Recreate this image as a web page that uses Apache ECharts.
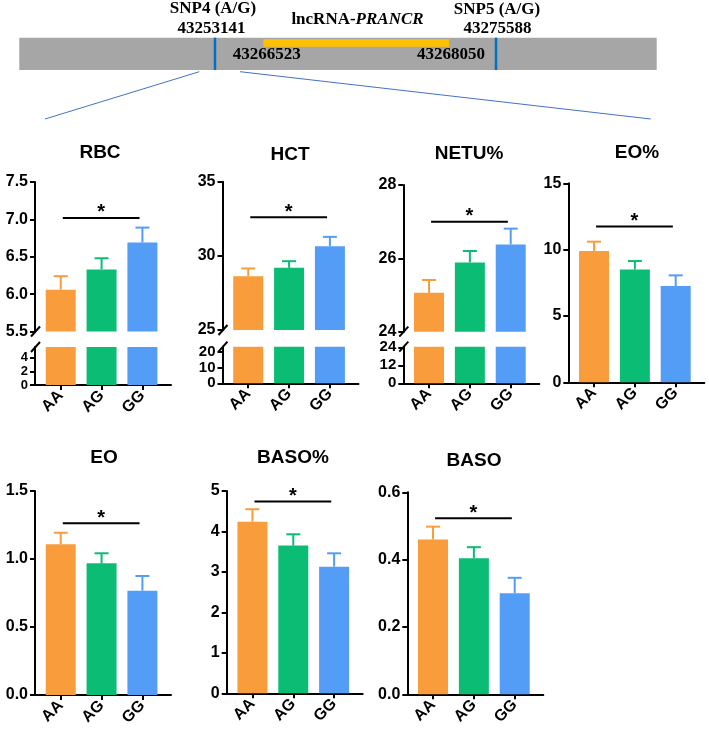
<!DOCTYPE html>
<html>
<head>
<meta charset="utf-8">
<script src="https://cdn.jsdelivr.net/npm/echarts@6/dist/echarts.min.js"></script>
<style>
html, body { margin: 0; padding: 0; background: #fff; }
#main { width: 709px; height: 735px; }
</style>
</head>
<body>
<div id="main"></div>
<script>
// genotype groups and bar colours
const genotypes = ['AA', 'AG', 'GG'];
const barColors = ['#F99C3C', '#0BBD74', '#539DF7'];

// mean and SEM
const rbcMean = [6.06, 6.33, 6.69];
const rbcSem = [0.18, 0.15, 0.20];
const hctMean = [28.63, 29.19, 30.65];
const hctSem = [0.52, 0.45, 0.63];
const netuMean = [25.06, 25.89, 26.38];
const netuSem = [0.35, 0.31, 0.43];
const eoPctMean = [9.90, 8.51, 7.26];
const eoPctSem = [0.70, 0.63, 0.80];
const eoMean = [1.108, 0.968, 0.767];
const eoSem = [0.085, 0.074, 0.108];
const basoPctMean = [4.24, 3.65, 3.13];
const basoPctSem = [0.31, 0.28, 0.33];
const basoMean = [0.460, 0.404, 0.300];
const basoSem = [0.038, 0.033, 0.046];

// height of the AA vs GG significance bar
const sigLevel = [7.02, 32.6, 27.0, 11.75, 1.262, 4.74, 0.523];
const panelTitles = ['RBC', 'HCT', 'NETU%', 'EO%', 'EO', 'BASO%', 'BASO'];

const FONT = 'Liberation Sans, Arial, sans-serif';
const SERIF = 'Liberation Serif, Times New Roman, serif';
const W = 136;
const X_MIN = -0.63, X_MAX = 2.7;

// layout of each panel (broken axes get a "lower" part)
const panels = [
    { mean: rbcMean, sem: rbcSem, left: 35, top: 182, bottom: 331.5, min: 5.5, max: 7.5, interval: 0.5, dec: 1,
      lower: { top: 347, bottom: 385, max: 5.6, ticks: [0, 2, 4], font: 13 }, tx: 100, ty: 153 },
    { mean: hctMean, sem: hctSem, left: 222.5, top: 181.7, bottom: 330, min: 25, max: 35, interval: 5, dec: 0,
      lower: { top: 346.7, bottom: 383.3, max: 23.2, ticks: [0, 10, 20], font: 15 }, tx: 290, ty: 155 },
    { mean: netuMean, sem: netuSem, left: 403.3, top: 185, bottom: 331.7, min: 24, max: 28, interval: 2, dec: 0,
      lower: { top: 346.7, bottom: 383.3, max: 24.4, ticks: [0, 12, 24], font: 15 }, tx: 469, ty: 154 },
    { mean: eoPctMean, sem: eoPctSem, left: 568.3, top: 183.3, bottom: 382.3, min: 0, max: 15, interval: 5, dec: 0,
      tx: 637, ty: 153 },
    { mean: eoMean, sem: eoSem, left: 35, top: 491, bottom: 695, min: 0, max: 1.5, interval: 0.5, dec: 1,
      tx: 104, ty: 458 },
    { mean: basoPctMean, sem: basoPctSem, left: 226.7, top: 491, bottom: 693.3, min: 0, max: 5, interval: 1, dec: 0,
      tx: 293, ty: 458 },
    { mean: basoMean, sem: basoSem, left: 407.3, top: 492.3, bottom: 694.3, min: 0, max: 0.6, interval: 0.2, dec: 1,
      tx: 474, ty: 461 }
];

const grid = [], xAxis = [], yAxis = [], series = [], graphic = [];

const lineStyle = { color: '#000', width: 2 };
const labelStyle = { color: '#000', fontFamily: FONT, fontWeight: 'bold', fontSize: 16,
                     showMinLabel: true, showMaxLabel: true };

function addGrid(left, top, bottom, showX) {
    const idx = grid.length;
    grid.push({ left: left, top: top, width: W, height: bottom - top, outerBoundsMode: 'none' });
    xAxis.push({
        gridIndex: idx, type: 'value', min: X_MIN, max: X_MAX, show: showX,
        splitLine: { show: false },
        axisLine: { show: true, onZero: false, lineStyle: lineStyle },
        axisTick: { show: true, length: 5, lineStyle: lineStyle, customValues: [0, 1, 2] },
        axisLabel: Object.assign({}, labelStyle, {
            customValues: [0, 1, 2], rotate: 45, margin: 8,
            formatter: v => genotypes[Math.round(v)]
        })
    });
    return idx;
}

function yStyle(extra) {
    return Object.assign({
        type: 'value',
        splitLine: { show: false },
        axisLine: { show: true, onZero: false, lineStyle: lineStyle },
        axisTick: { show: true, length: 5, lineStyle: lineStyle }
    }, extra);
}

function barSeries(idx, mean) {
    return {
        type: 'bar', xAxisIndex: idx, yAxisIndex: idx, barWidth: 30, clip: true, silent: true,
        data: mean.map((v, i) => ({ value: [i, v], itemStyle: { color: barColors[i] } }))
    };
}

function slash(x, y) {
    graphic.push({
        type: 'line', silent: true,
        shape: { x1: x - 4, y1: y + 5, x2: x + 5, y2: y - 5 },
        style: { stroke: '#000', lineWidth: 2 }
    });
}

panels.forEach((p, k) => {
    const up = addGrid(p.left, p.top, p.bottom, !p.lower);
    yAxis.push(yStyle({
        gridIndex: up, min: p.min, max: p.max, interval: p.interval,
        axisLabel: Object.assign({}, labelStyle, { margin: 7, formatter: v => v.toFixed(p.dec) })
    }));
    series.push(barSeries(up, p.mean));

    if (p.lower) {
        const lo = addGrid(p.left, p.lower.top, p.lower.bottom, true);
        yAxis.push(yStyle({
            gridIndex: lo, min: 0, max: p.lower.max,
            axisTick: { show: true, length: 5, lineStyle: lineStyle, customValues: p.lower.ticks },
            axisLabel: Object.assign({}, labelStyle, {
                margin: 7, customValues: p.lower.ticks, hideOverlap: false,
                fontSize: p.lower.font, lineHeight: 10
            })
        }));
        series.push(barSeries(lo, p.mean));
        slash(p.left, p.bottom);
        slash(p.left, p.lower.top);
    }

    // error bars (mean + SEM, upper whisker only)
    series.push({
        type: 'custom', xAxisIndex: up, yAxisIndex: up, silent: true, z: 3,
        data: p.mean.map((v, i) => [i, v, p.sem[i]]),
        renderItem: (params, api) => {
            const x = api.value(0), m = api.value(1), e = api.value(2);
            const a = api.coord([x, m]), b = api.coord([x, m + e]);
            const c = barColors[params.dataIndex];
            return {
                type: 'group', children: [
                    { type: 'line', shape: { x1: a[0], y1: a[1], x2: b[0], y2: b[1] }, style: { stroke: c, lineWidth: 2 } },
                    { type: 'line', shape: { x1: b[0] - 7, y1: b[1], x2: b[0] + 7, y2: b[1] }, style: { stroke: c, lineWidth: 2 } }
                ]
            };
        }
    });

    // significance bar AA vs GG
    series.push({
        type: 'custom', xAxisIndex: up, yAxisIndex: up, silent: true, z: 3,
        data: [[0.05, 1.93, sigLevel[k]]],
        renderItem: (params, api) => {
            const a = api.coord([api.value(0), api.value(2)]);
            const b = api.coord([api.value(1), api.value(2)]);
            return {
                type: 'group', children: [
                    { type: 'line', shape: { x1: a[0], y1: a[1], x2: b[0], y2: b[1] }, style: { stroke: '#000', lineWidth: 2 } },
                    { type: 'text', x: (a[0] + b[0]) / 2, y: a[1] - 5, style: {
                        text: '*', fill: '#000', fontFamily: FONT, fontWeight: 'bold', fontSize: 20,
                        align: 'center', verticalAlign: 'middle' } }
                ]
            };
        }
    });

    graphic.push({
        type: 'text', x: p.tx, y: p.ty, silent: true,
        style: { text: panelTitles[k], fill: '#000', fontFamily: FONT, fontWeight: 'bold', fontSize: 19,
                 align: 'center', verticalAlign: 'middle' }
    });
});

// gene diagram on top
function serifText(text, x, y) {
    graphic.push({
        type: 'text', x: x, y: y, silent: true,
        style: { text: text, fill: '#000', fontFamily: SERIF, fontWeight: 'bold', fontSize: 17,
                 align: 'center', verticalAlign: 'middle',
                 rich: { i: { fontFamily: SERIF, fontWeight: 'bold', fontStyle: 'italic', fontSize: 17, fill: '#000' } } }
    });
}
graphic.push(
    { type: 'rect', silent: true, shape: { x: 19.3, y: 37.7, width: 637.4, height: 32.3 }, style: { fill: '#A6A6A6' } },
    { type: 'rect', silent: true, shape: { x: 263.3, y: 39.3, width: 185.7, height: 7.4 }, style: { fill: '#FFC000' } },
    { type: 'line', silent: true, shape: { x1: 215, y1: 37.7, x2: 215, y2: 70 }, style: { stroke: '#0070C0', lineWidth: 2.5 } },
    { type: 'line', silent: true, shape: { x1: 496, y1: 37.7, x2: 496, y2: 70 }, style: { stroke: '#0070C0', lineWidth: 2.5 } },
    { type: 'line', silent: true, shape: { x1: 199.3, y1: 71.7, x2: 45, y2: 119 }, style: { stroke: '#4472C4', lineWidth: 1 } },
    { type: 'line', silent: true, shape: { x1: 240, y1: 71.7, x2: 650.7, y2: 119 }, style: { stroke: '#4472C4', lineWidth: 1 } }
);
serifText('SNP4 (A/G)', 213, 9);
serifText('43253141', 211.5, 28.5);
serifText('SNP5 (A/G)', 497, 9.5);
serifText('43275588', 497.5, 29);
serifText('lncRNA-{i|PRANCR}', 357.5, 19.5);
serifText('43266523', 266.7, 54.5);
serifText('43268050', 451, 54.5);

const chart = echarts.init(document.getElementById('main'), null, { renderer: 'canvas' });
chart.setOption({
    animation: false,
    backgroundColor: '#fff',
    grid: grid,
    xAxis: xAxis,
    yAxis: yAxis,
    series: series,
    graphic: graphic
});
</script>
</body>
</html>
